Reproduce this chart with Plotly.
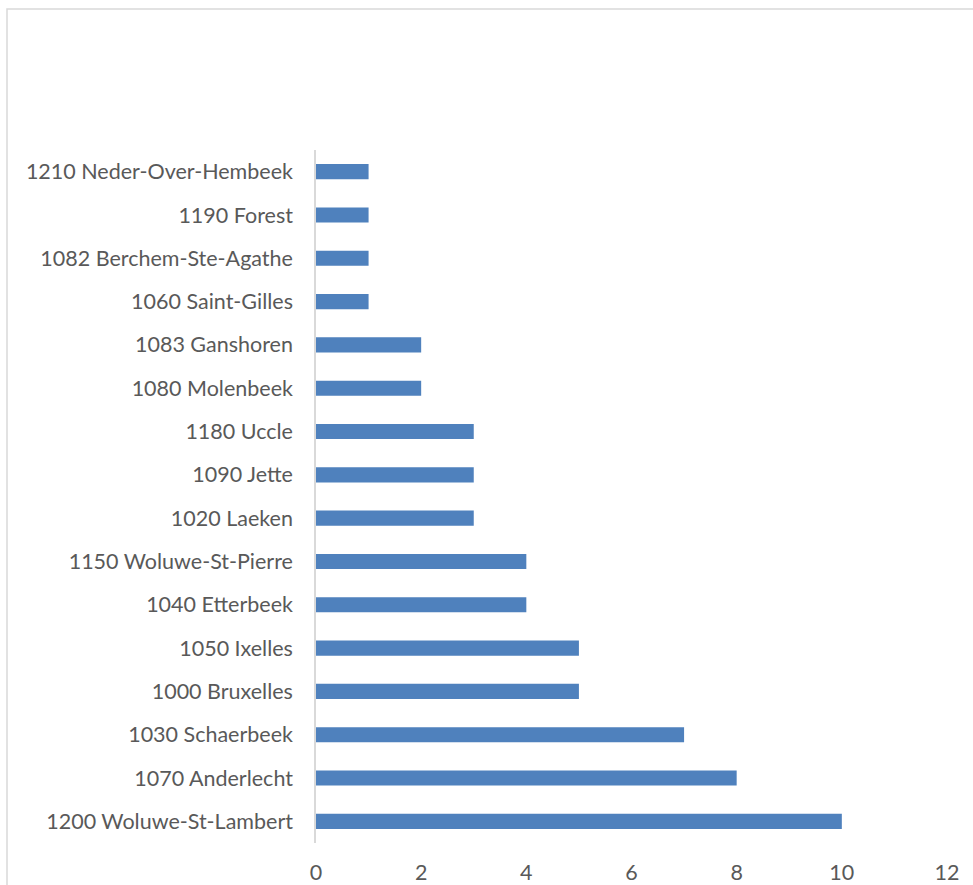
import plotly.graph_objects as go

communes = [
    "1200 Woluwe-St-Lambert", "1070 Anderlecht", "1030 Schaerbeek", "1000 Bruxelles",
    "1050 Ixelles", "1040 Etterbeek", "1150 Woluwe-St-Pierre", "1020 Laeken",
    "1090 Jette", "1180 Uccle", "1080 Molenbeek", "1083 Ganshoren",
    "1060 Saint-Gilles", "1082 Berchem-Ste-Agathe", "1190 Forest", "1210 Neder-Over-Hembeek",
]
counts = [10, 8, 7, 5, 5, 4, 4, 3, 3, 3, 2, 2, 1, 1, 1, 1]
x_ticks = [0, 2, 4, 6, 8, 10, 12]

W, H = 973, 885
fig = go.Figure(go.Bar(
    x=counts, y=communes, orientation="h",
    marker=dict(color="#4f81bd", line=dict(width=0)),
    width=0.35, hoverinfo="x+y",
))

font = dict(family="Lato, Open Sans, sans-serif", size=21.5, color="#595959")
fig.update_layout(
    width=W, height=H,
    margin=dict(l=0, r=0, t=0, b=0, autoexpand=False),
    paper_bgcolor="white", plot_bgcolor="white",
    showlegend=False,
    font=font,
    xaxis=dict(
        domain=[316 / W, 947 / W], range=[0, 12], tickvals=x_ticks,
        showgrid=False, zeroline=False, showline=False, ticks="",
        ticklabelstandoff=14, tickfont=font, automargin=False,
    ),
    yaxis=dict(
        domain=[(H - 843) / H, (H - 150) / H], type="category",
        range=[-0.5, 15.5], showgrid=False, zeroline=False,
        showline=True, linecolor="#d9d9d9", linewidth=1.5, ticks="",
        ticklabelstandoff=17, tickfont=font, automargin=False,
    ),
    shapes=[dict(
        type="rect", xref="paper", yref="paper",
        x0=7 / W, x1=1.05, y0=-0.05, y1=(H - 9) / H,
        line=dict(color="#d9d9d9", width=1.5), fillcolor="rgba(0,0,0,0)",
        layer="below",
    )],
)

fig.write_html(
    "out.html",
    config={"displayModeBar": False},
    post_script="document.body.style.margin='0';document.body.style.overflow='hidden';",
)
